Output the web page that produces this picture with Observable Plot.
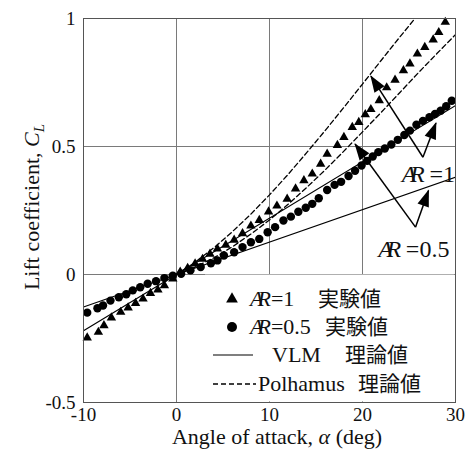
<!DOCTYPE html>
<html><head><meta charset="utf-8">
<script src="https://cdn.jsdelivr.net/npm/d3@7"></script>
<script src="https://cdn.jsdelivr.net/npm/@observablehq/plot@0.6"></script>
<style>body{margin:0;background:#fff}</style>
</head><body><div id="chart"></div>
<script>
const xTicks = [-10, 0, 10, 20, 30];
const yTicks = [-0.5, 0, 0.5, 1];

// Experiment, AR = 1 (triangles)
const ar1Alpha = [-9.6,-8.4,-7.8,-7.0,-6.0,-5.2,-4.4,-3.6,-2.8,-2.0,-1.3,-0.4,0.4,1.2,2.0,2.8,3.6,4.4,5.3,6.2,7.1,8.0,8.9,9.9,10.8,11.9,12.8,13.7,14.6,15.5,16.2,17.3,18.0,18.9,19.6,20.3,20.9,21.8,22.6,23.5,24.4,25.1,25.9,26.7,27.6,28.2,28.9];
const ar1CL = [-0.247,-0.225,-0.199,-0.169,-0.147,-0.130,-0.112,-0.095,-0.073,-0.060,-0.043,-0.017,0.010,0.025,0.042,0.060,0.080,0.100,0.115,0.135,0.160,0.190,0.212,0.245,0.268,0.295,0.335,0.367,0.393,0.432,0.471,0.505,0.536,0.575,0.595,0.625,0.645,0.680,0.730,0.760,0.797,0.823,0.862,0.888,0.917,0.946,0.986];

// Experiment, AR = 0.5 (circles)
const ar05Alpha = [-9.6,-8.5,-7.9,-7.1,-6.2,-5.4,-4.7,-3.9,-3.1,-2.2,-1.3,-0.4,0.5,1.5,2.6,3.7,4.4,5.1,6.2,7.1,8.0,8.9,9.8,10.6,11.5,12.3,13.1,13.9,14.6,15.3,16.2,17.0,17.7,18.5,19.2,19.9,20.5,21.1,21.7,22.4,23.1,23.8,24.5,25.1,25.8,26.5,27.2,27.8,28.4,29.0,29.6];
const ar05CL = [-0.149,-0.132,-0.121,-0.102,-0.089,-0.077,-0.062,-0.050,-0.036,-0.026,-0.014,-0.005,0.003,0.016,0.029,0.044,0.055,0.074,0.087,0.107,0.126,0.139,0.165,0.185,0.211,0.226,0.245,0.261,0.276,0.298,0.330,0.350,0.362,0.385,0.405,0.426,0.444,0.461,0.478,0.492,0.508,0.526,0.545,0.562,0.585,0.600,0.614,0.627,0.640,0.657,0.679];

// VLM theory (solid)
const vlmAlpha = [-10, 30];
const vlmAR1 = [-0.22, 0.66];
const vlmAR05 = [-0.127, 0.38];

// Polhamus theory (dashed)
const polAR1Alpha = [0,2,4,6,8,10,12,14,16,18,20,22,24,26];
const polAR1 = [0,0.048,0.104,0.167,0.236,0.311,0.391,0.476,0.563,0.653,0.744,0.836,0.927,1.016];
const polAR05Alpha = [0,2,4,6,8,10,12,14,16,18,20,22,24,26,28,30];
const polAR05 = [0,0.029,0.065,0.108,0.158,0.213,0.274,0.340,0.409,0.482,0.557,0.633,0.710,0.788,0.863,0.937];

// Annotation arrows and labels
const arrowX1 = [26.5, 26.5, 25.7, 25.7];
const arrowY1 = [0.458, 0.458, 0.185, 0.185];
const arrowX2 = [20.9, 27.9, 19.2, 27.1];
const arrowY2 = [0.775, 0.592, 0.51, 0.328];
const labelValues = ["1", "0.5"];
const labelX = [30, 29.4];
const labelY = [0.36, 0.068];

const legendLabels = ["=1", "=0.5", "VLM", "Polhamus"];
const legendJa = ["実験値", "実験値", "理論値", "理論値"];

const serif = "Liberation Serif, Times New Roman, serif";
const ja = "Noto Sans CJK JP, sans-serif";

const tri = ar1Alpha.map((a, i) => ({a, cl: ar1CL[i]}));
const cir = ar05Alpha.map((a, i) => ({a, cl: ar05CL[i]}));
const vlm = [
  ...vlmAlpha.map((a, i) => ({a, cl: vlmAR1[i], s: "AR1"})),
  ...vlmAlpha.map((a, i) => ({a, cl: vlmAR05[i], s: "AR05"}))
];
const pol = [
  ...polAR1Alpha.map((a, i) => ({a, cl: polAR1[i], s: "AR1"})),
  ...polAR05Alpha.map((a, i) => ({a, cl: polAR05[i], s: "AR05"}))
];
const arrows = arrowX1.map((x1, i) => ({x1, y1: arrowY1[i], x2: arrowX2[i], y2: arrowY2[i]}));

const chart = Plot.plot({
  width: 467, height: 450,
  marginLeft: 83, marginRight: 12, marginTop: 18, marginBottom: 48,
  style: {fontFamily: serif, fontSize: "19px", color: "#111", background: "#fff"},
  x: {domain: [-10, 30], label: null},
  y: {domain: [-0.5, 1], label: null},
  marks: [
    Plot.gridX(xTicks, {stroke: "#7a7a7a", strokeOpacity: 1, strokeWidth: 1}),
    Plot.gridY(yTicks, {stroke: "#7a7a7a", strokeOpacity: 1, strokeWidth: 1}),
    Plot.line(vlm, {x: "a", y: "cl", z: "s", stroke: "#000", strokeWidth: 1.2, clip: true}),
    Plot.line(pol, {x: "a", y: "cl", z: "s", stroke: "#000", strokeWidth: 1.3, strokeDasharray: "5,3", clip: true}),
    Plot.dot(tri, {x: "a", y: "cl", symbol: "triangle", r: 3.5, fill: "#000", stroke: "none"}),
    Plot.dot(cir, {x: "a", y: "cl", r: 4.2, fill: "#000", stroke: "none"}),
    Plot.link(arrows, {x1: "x1", y1: "y1", x2: "x2", y2: "y2", stroke: "#000", strokeWidth: 1.5, markerEnd: "arrow"}),
    Plot.frame({stroke: "#555", strokeWidth: 1}),
    Plot.axisX(xTicks, {tickSize: 0, tickPadding: 5, fontSize: 19, label: null, tickFormat: d => String(d)}),
    Plot.axisY(yTicks, {tickSize: 0, tickPadding: 8, fontSize: 19, label: null, tickFormat: d => String(d)})
  ]
});

// Filled arrowheads
chart.querySelectorAll("marker").forEach(m => {
  m.setAttribute("viewBox", "-17 -7 18 14");
  m.setAttribute("markerWidth", "18");
  m.setAttribute("markerHeight", "14");
  m.setAttribute("markerUnits", "userSpaceOnUse");
  m.setAttribute("fill", "#000");
  m.setAttribute("stroke", "none");
  m.setAttribute("overflow", "visible");
  const p = m.querySelector("path");
  if (p) { p.setAttribute("d", "M1,0L-16,-6L-16,6Z"); p.setAttribute("fill", "#000"); p.setAttribute("stroke", "none"); }
});

const svg = d3.select(chart);
const sx = chart.scale("x"), sy = chart.scale("y");

// "AR" (aspect ratio symbol) drawn as one italic run with tight letter spacing
function arText(g, x, y, size, rest, anchor) {
  const t = g.append("text").attr("x", x).attr("y", y)
    .attr("font-family", serif).attr("font-size", size).attr("fill", "#111")
    .attr("text-anchor", anchor || "start");
  t.append("tspan").attr("font-style", "italic").attr("letter-spacing", -0.27 * size).text("AR");
  t.append("tspan").attr("dx", 0.27 * size).text(rest);
  return t;
}

// AR labels in the plot
labelValues.forEach((v, i) => {
  arText(svg, sx.apply(labelX[i]), sy.apply(labelY[i]), 24, "\u2009=" + v, "end");
});

// Axis titles
const xl = svg.append("text").attr("x", 277).attr("y", 444).attr("text-anchor", "middle")
  .attr("font-family", serif).attr("font-size", 22).attr("fill", "#111");
xl.append("tspan").text("Angle of attack, ");
xl.append("tspan").attr("font-style", "italic").text("α");
xl.append("tspan").text(" (deg)");

const yl = svg.append("text").attr("transform", "translate(39,207) rotate(-90)").attr("text-anchor", "middle")
  .attr("font-family", serif).attr("font-size", 22).attr("fill", "#111");
yl.append("tspan").text("Lift coefficient, ");
yl.append("tspan").attr("font-style", "italic").text("C");
yl.append("tspan").attr("font-style", "italic").attr("font-size", 15).attr("dy", 5).text("L");

// Legend
const lg = svg.append("g").attr("text-anchor", "start");
lg.append("rect").attr("x", 205).attr("y", 274.6).attr("width", 249.4).attr("height", 126.8).attr("fill", "#fff");
const rowY = [299, 327, 355, 384];
lg.append("path").attr("d", d3.symbol(d3.symbolTriangle, 60)()).attr("transform", `translate(232,${rowY[0]})`).attr("fill", "#000");
lg.append("circle").attr("cx", 232).attr("cy", rowY[1]).attr("r", 5).attr("fill", "#000");
lg.append("line").attr("x1", 213).attr("x2", 253).attr("y1", rowY[2]).attr("y2", rowY[2]).attr("stroke", "#000").attr("stroke-width", 1.2);
lg.append("line").attr("x1", 213).attr("x2", 256).attr("y1", rowY[3]).attr("y2", rowY[3]).attr("stroke", "#000").attr("stroke-width", 1.3).attr("stroke-dasharray", "5,3");
const textX = [250, 250, 272, 258];
const jaX = [318, 325, 345, 358];
legendLabels.forEach((lab, i) => {
  const base = rowY[i] + 7;
  if (i < 2) arText(lg, textX[i], base, 22, lab, "start");
  else lg.append("text").attr("x", textX[i]).attr("y", base).attr("text-anchor", "start").attr("font-family", serif).attr("font-size", 22).attr("fill", "#111").text(lab);
  lg.append("text").attr("x", jaX[i]).attr("y", base).attr("text-anchor", "start").attr("font-family", ja).attr("font-size", 21).attr("fill", "#111").text(legendJa[i]);
});

document.getElementById("chart").appendChild(chart);
</script>
</body></html>
